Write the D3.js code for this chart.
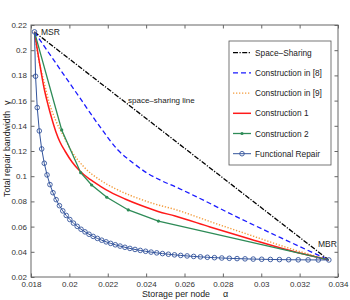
<!DOCTYPE html>
<html>
<head>
<meta charset="utf-8">
<script src="https://d3js.org/d3.v7.min.js"></script>
<style>
  body { margin: 0; background: #fff; }
  text { font-family: "Liberation Sans", Arial, sans-serif; }
</style>
</head>
<body>
<div id="my_dataviz"></div>
<script>

// ---- data (storage per node alpha, total repair bandwidth gamma) ----
var spaceAlpha = [0.01818, 0.03352];
var spaceGamma = [0.2145, 0.03352];

var c8Alpha = [0.01818, 0.01936, 0.02055, 0.02160, 0.02253, 0.02332, 0.02405, 0.02478, 0.02551, 0.02681, 0.02853, 0.03098, 0.03352];
var c8Gamma = [0.2145, 0.1883, 0.1621, 0.1391, 0.1208, 0.1105, 0.1025, 0.0966, 0.0917, 0.0823, 0.0692, 0.0514, 0.03352];

var c9Alpha = [0.01818, 0.01836, 0.01868, 0.01894, 0.01930, 0.01967, 0.02008, 0.02076, 0.02160, 0.02238, 0.02332, 0.02446, 0.02551, 0.02733, 0.02941, 0.03150, 0.03352];
var c9Gamma = [0.2145, 0.1962, 0.1748, 0.1589, 0.1438, 0.1327, 0.1208, 0.1073, 0.0970, 0.0902, 0.0839, 0.0779, 0.0736, 0.0640, 0.0533, 0.0426, 0.03352];

var c1Alpha = [0.01818, 0.01842, 0.01868, 0.01889, 0.01909, 0.01930, 0.01951, 0.01977, 0.02014, 0.02055, 0.02108, 0.02160, 0.02212, 0.02290, 0.02368, 0.02462, 0.02551, 0.02733, 0.02941, 0.03150, 0.03352];
var c1Gamma = [0.2145, 0.1922, 0.1700, 0.1565, 0.1454, 0.1351, 0.1271, 0.1200, 0.1113, 0.1041, 0.0974, 0.0922, 0.0875, 0.0819, 0.0771, 0.0720, 0.0684, 0.0597, 0.0502, 0.0410, 0.03352];

var c2Alpha = [0.01818, 0.01960, 0.02059, 0.02116, 0.02195, 0.02307, 0.02464, 0.03352];
var c2Gamma = [0.2145, 0.1367, 0.1028, 0.0930, 0.0833, 0.0732, 0.0644, 0.03352];

var frAlpha = [0.018182, 0.018237, 0.018325, 0.018433, 0.018557, 0.018692, 0.018836, 0.018987, 0.019146, 0.019310,
               0.019481, 0.019656, 0.019837, 0.020022, 0.020213, 0.020408, 0.020608, 0.020814, 0.021024, 0.021239,
               0.021459, 0.021685, 0.021916, 0.022152, 0.022394, 0.022642, 0.022895, 0.023155, 0.023421, 0.023693,
               0.023973, 0.024259, 0.024552, 0.024853, 0.025161, 0.025478, 0.025802, 0.026136, 0.026478, 0.026829,
               0.027190, 0.027561, 0.027943, 0.028335, 0.028739, 0.029155, 0.029582, 0.030023, 0.030477, 0.030946,
               0.031429, 0.031927, 0.032442, 0.032974, 0.033523];
var frGamma = [0.214545, 0.179331, 0.154450, 0.135945, 0.121649, 0.110280, 0.101027, 0.093354, 0.086892, 0.081379,
               0.076623, 0.072482, 0.068845, 0.065628, 0.062766, 0.060204, 0.057900, 0.055818, 0.053931, 0.052212,
               0.050644, 0.049208, 0.047890, 0.046677, 0.045560, 0.044528, 0.043575, 0.042692, 0.041874, 0.041115,
               0.040411, 0.039757, 0.039151, 0.038587, 0.038065, 0.037580, 0.037130, 0.036714, 0.036330, 0.035976,
               0.035650, 0.035350, 0.035077, 0.034829, 0.034604, 0.034402, 0.034223, 0.034065, 0.033928, 0.033811,
               0.033714, 0.033637, 0.033580, 0.033542, 0.033523];

var xTicks = [0.018, 0.02, 0.022, 0.024, 0.026, 0.028, 0.03, 0.032, 0.034];
var xTickLabels = ["0.018", "0.02", "0.022", "0.024", "0.026", "0.028", "0.03", "0.032", "0.034"];
var yTicks = [0.02, 0.04, 0.06, 0.08, 0.1, 0.12, 0.14, 0.16, 0.18, 0.2, 0.22];
var yTickLabels = ["0.02", "0.04", "0.06", "0.08", "0.1", "0.12", "0.14", "0.16", "0.18", "0.2", "0.22"];

var legendNames = ["Space\u2013Sharing", "Construction in [8]", "Construction in [9]", "Construction 1", "Construction 2", "Functional Repair"];

// ---- layout ----
var margin = {top: 25, right: 12, bottom: 23, left: 31},
    width = 350 - margin.left - margin.right,
    height = 300 - margin.top - margin.bottom;

var svg = d3.select("#my_dataviz")
  .append("svg")
    .attr("width", 350)
    .attr("height", 300)
  .append("g")
    .attr("transform", "translate(" + margin.left + "," + margin.top + ")");

var x = d3.scaleLinear().domain([0.018, 0.034]).range([0, width]);
var y = d3.scaleLinear().domain([0.02, 0.22]).range([height, 0]);

// axes, MATLAB style: inward ticks on all four sides
var axisColor = "#666";
function styleAxis(g) {
  g.select(".domain").remove();
  g.selectAll(".tick line").attr("stroke", axisColor);
  g.selectAll(".tick text").attr("fill", "#333").style("font-size", "8px");
}
svg.append("g")
  .attr("transform", "translate(0," + height + ")")
  .call(d3.axisBottom(x).tickValues(xTicks).tickSize(-3.5).tickPadding(4)
        .tickFormat(function(d, i) { return xTickLabels[i]; }))
  .call(styleAxis);
svg.append("g")
  .call(d3.axisLeft(y).tickValues(yTicks).tickSize(-3.5).tickPadding(4)
        .tickFormat(function(d, i) { return yTickLabels[i]; }))
  .call(styleAxis);
svg.append("g")
  .call(d3.axisTop(x).tickValues(xTicks).tickSize(-3.5).tickFormat(""))
  .call(styleAxis);
svg.append("g")
  .attr("transform", "translate(" + width + ",0)")
  .call(d3.axisRight(y).tickValues(yTicks).tickSize(-3.5).tickFormat(""))
  .call(styleAxis);

svg.append("rect")
  .attr("width", width).attr("height", height)
  .attr("fill", "none").attr("stroke", axisColor).attr("stroke-width", 1);

// series
var series = [
  {a: spaceAlpha, g: spaceGamma, color: "#000", dash: "5,1.5,1.2,1.5", w: 1.3},
  {a: c8Alpha, g: c8Gamma, color: "#1a1aff", dash: "5,3", w: 1.3, smooth: true},
  {a: c9Alpha, g: c9Gamma, color: "#f39c3c", dash: "1.3,1.7", w: 1.4, smooth: true},
  {a: c1Alpha, g: c1Gamma, color: "#ff1a1a", dash: null, w: 1.5, smooth: true},
  {a: c2Alpha, g: c2Gamma, color: "#2e8b57", dash: null, w: 1.3, dot: true},
  {a: frAlpha, g: frGamma, color: "#33549c", dash: null, w: 1, circle: true}
];

var line = d3.line()
  .x(function(d) { return x(d[0]); })
  .y(function(d) { return y(d[1]); });
var smoothLine = d3.line()
  .curve(d3.curveMonotoneX)
  .x(function(d) { return x(d[0]); })
  .y(function(d) { return y(d[1]); });

series.forEach(function(s) {
  var pts = s.a.map(function(v, i) { return [v, s.g[i]]; });
  svg.append("path")
    .datum(pts)
    .attr("d", s.smooth ? smoothLine : line)
    .attr("fill", "none")
    .attr("stroke", s.color)
    .attr("stroke-width", s.w)
    .attr("stroke-dasharray", s.dash);
  if (s.dot) {
    svg.selectAll(null).data(pts.slice(1, -1)).enter().append("circle")
      .attr("cx", function(d) { return x(d[0]); })
      .attr("cy", function(d) { return y(d[1]); })
      .attr("r", 1.6)
      .attr("fill", s.color);
  }
  if (s.circle) {
    svg.selectAll(null).data(pts).enter().append("circle")
      .attr("cx", function(d) { return x(d[0]); })
      .attr("cy", function(d) { return y(d[1]); })
      .attr("r", 2.3)
      .attr("fill", "none")
      .attr("stroke", s.color)
      .attr("stroke-width", 0.9);
  }
});

// annotations
svg.append("text").attr("x", 10).attr("y", 9.5).style("font-size", "8.5px").attr("fill", "#222").text("MSR");
svg.append("text").attr("x", 287).attr("y", 221.5).style("font-size", "8.5px").attr("fill", "#222").text("MBR");
svg.append("text").attr("x", 97).attr("y", 77.5).style("font-size", "8px").attr("fill", "#222").text("space\u2013sharing line");

// axis labels
svg.append("text")
  .attr("x", 111).attr("y", height + 20)
  .style("font-size", "8.8px").attr("fill", "#222")
  .text("Storage per node");
svg.append("text")
  .attr("x", 192).attr("y", height + 20)
  .style("font-size", "9px").attr("fill", "#222")
  .text("\u03b1");
svg.append("text")
  .attr("transform", "rotate(-90)")
  .attr("x", -(172)).attr("y", -21.5)
  .style("font-size", "8.8px").attr("fill", "#222")
  .text("Total repair bandwidth");
svg.append("text")
  .attr("transform", "rotate(-90)")
  .attr("x", -(80)).attr("y", -21.5)
  .style("font-size", "9px").attr("fill", "#222")
  .text("\u03b3");

// legend
var lg = svg.append("g").attr("transform", "translate(" + (229 - margin.left) + "," + (41 - margin.top) + ")");
lg.append("rect")
  .attr("width", 102).attr("height", 124)
  .attr("fill", "#fff").attr("stroke", "#555").attr("stroke-width", 0.8);
series.forEach(function(s, i) {
  var yy = 11.7 + i * 20.2;
  lg.append("line")
    .attr("x1", 4).attr("x2", 22).attr("y1", yy).attr("y2", yy)
    .attr("stroke", s.color).attr("stroke-width", s.w)
    .attr("stroke-dasharray", s.dash);
  if (s.dot) lg.append("circle").attr("cx", 13).attr("cy", yy).attr("r", 1.6).attr("fill", s.color);
  if (s.circle) lg.append("circle").attr("cx", 13).attr("cy", yy).attr("r", 2.3)
    .attr("fill", "none").attr("stroke", s.color).attr("stroke-width", 0.9);
  lg.append("text")
    .attr("x", 26).attr("y", yy + 3)
    .style("font-size", "8.3px").attr("fill", "#222")
    .text(legendNames[i]);
});

</script>
</body>
</html>
